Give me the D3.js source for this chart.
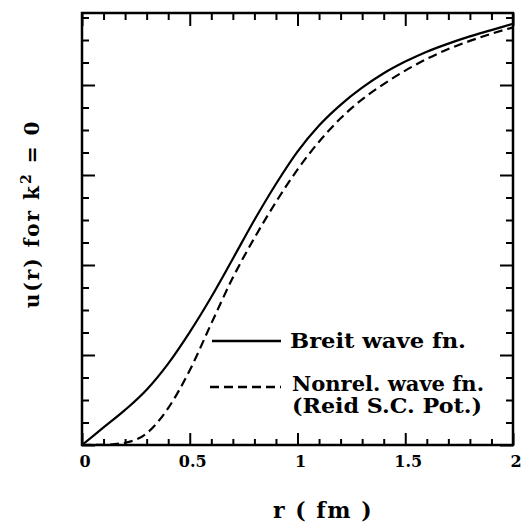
<!DOCTYPE html>
<html>
<head>
<meta charset="utf-8">
<script src="https://cdn.jsdelivr.net/npm/d3@7"></script>
<style>
  html, body { margin: 0; padding: 0; background: #fff; }
  svg { display: block; }
  text { font-family: "DejaVu Serif", serif; font-weight: bold; fill: #000; }
</style>
</head>
<body>
<svg id="chart" width="522" height="527"></svg>
<script>
// ---- data ----
const rGrid = [0, 0.1, 0.2, 0.3, 0.4, 0.5, 0.6, 0.7, 0.8, 0.9, 1.0, 1.1, 1.2, 1.3, 1.4, 1.5, 1.6, 1.7, 1.8, 1.9, 2.0];
const breitU = [0, 0.195, 0.39, 0.615, 0.905, 1.255, 1.645, 2.07, 2.50, 2.90, 3.26, 3.55, 3.78, 3.97, 4.13, 4.26, 4.37, 4.46, 4.54, 4.61, 4.68];
const nonrelU = [0, 0.003, 0.025, 0.13, 0.41, 0.83, 1.35, 1.86, 2.30, 2.70, 3.06, 3.37, 3.63, 3.84, 4.01, 4.16, 4.29, 4.40, 4.49, 4.57, 4.64];
const xTickLabels = ["0", "0.5", "1", "1.5", "2"];
const xTickValues = [0, 0.5, 1, 1.5, 2];
const legendLabels = ["Breit wave fn.", "Nonrel. wave fn.", "(Reid S.C. Pot.)"];

// ---- layout ----
const L = 82, R = 513, T = 13, B = 445;
const svg = d3.select("#chart");
const x = d3.scaleLinear().domain([0, 2]).range([L, R]);
const y = d3.scaleLinear().domain([0, 4.8]).range([B, T]);

const minorX = d3.range(0, 2.0001, 0.1);
const minorY = d3.range(0, 4.8001, 0.25);
const isMajorX = v => Math.abs(v * 2 - Math.round(v * 2)) < 1e-6;
const isMajorY = v => Math.abs(v - Math.round(v)) < 1e-6;

const g = svg.append("g");

// bottom axis ticks (inward)
g.append("g").attr("transform", `translate(0,${B})`)
  .call(d3.axisTop(x).tickValues(minorX).tickFormat("").tickSizeOuter(0))
  .call(a => a.select(".domain").remove())
  .call(a => a.selectAll(".tick line").attr("stroke", "#000").attr("stroke-width", 2)
    .attr("y2", d => isMajorX(d) ? -12 : -6));

// top axis ticks (inward)
g.append("g").attr("transform", `translate(0,${T})`)
  .call(d3.axisBottom(x).tickValues(minorX).tickFormat("").tickSizeOuter(0))
  .call(a => a.select(".domain").remove())
  .call(a => a.selectAll(".tick line").attr("stroke", "#000").attr("stroke-width", 2)
    .attr("y2", d => isMajorX(d) ? 13 : 7));

// left axis ticks (inward)
g.append("g").attr("transform", `translate(${L},0)`)
  .call(d3.axisRight(y).tickValues(minorY).tickFormat("").tickSizeOuter(0))
  .call(a => a.select(".domain").remove())
  .call(a => a.selectAll(".tick line").attr("stroke", "#000").attr("stroke-width", 2)
    .attr("x2", d => isMajorY(d) ? 13 : 7));

// right axis ticks (inward)
g.append("g").attr("transform", `translate(${R},0)`)
  .call(d3.axisLeft(y).tickValues(minorY).tickFormat("").tickSizeOuter(0))
  .call(a => a.select(".domain").remove())
  .call(a => a.selectAll(".tick line").attr("stroke", "#000").attr("stroke-width", 2)
    .attr("x2", d => isMajorY(d) ? -13 : -7));

// frame
g.append("rect").attr("x", L).attr("y", T).attr("width", R - L).attr("height", B - T)
  .attr("fill", "none").attr("stroke", "#000").attr("stroke-width", 2.5);

// x tick labels
g.append("g").selectAll("text").data(xTickValues).join("text")
  .attr("x", d => x(d) + 3).attr("y", B + 22)
  .attr("text-anchor", "middle").attr("font-size", 16)
  .text((d, i) => xTickLabels[i]);

// curves
const line = d3.line().x(d => x(d[0])).y(d => y(d[1])).curve(d3.curveMonotoneX);
g.append("path").datum(d3.zip(rGrid, breitU))
  .attr("d", line).attr("fill", "none").attr("stroke", "#000").attr("stroke-width", 2.2);
g.append("path").datum(d3.zip(rGrid, nonrelU))
  .attr("d", line).attr("fill", "none").attr("stroke", "#000").attr("stroke-width", 2.2)
  .attr("stroke-dasharray", "9,5");

// legend
const lg = g.append("g");
lg.append("line").attr("x1", 212).attr("x2", 281).attr("y1", 341).attr("y2", 341)
  .attr("stroke", "#000").attr("stroke-width", 2.5);
lg.append("line").attr("x1", 210).attr("x2", 281).attr("y1", 387).attr("y2", 387)
  .attr("stroke", "#000").attr("stroke-width", 2.5).attr("stroke-dasharray", "9,5");
lg.append("text").attr("x", 290).attr("y", 348).attr("font-size", 20)
  .attr("textLength", 176).attr("lengthAdjust", "spacingAndGlyphs").text(legendLabels[0]);
lg.append("text").attr("x", 292).attr("y", 391).attr("font-size", 20)
  .attr("textLength", 192).attr("lengthAdjust", "spacingAndGlyphs").text(legendLabels[1]);
lg.append("text").attr("x", 292).attr("y", 413).attr("font-size", 20)
  .attr("textLength", 190).attr("lengthAdjust", "spacingAndGlyphs").text(legendLabels[2]);

// axis titles
g.append("text").attr("x", 323).attr("y", 518).attr("text-anchor", "middle")
  .attr("font-size", 22).attr("letter-spacing", 1.5).text("r ( fm )");

const yt = g.append("text").attr("transform", "translate(39,214) rotate(-90)")
  .attr("text-anchor", "middle").attr("font-size", 20).attr("letter-spacing", 2);
yt.append("tspan").text("u(r) for k");
yt.append("tspan").attr("dy", -8).attr("font-size", 14).text("2");
yt.append("tspan").attr("dy", 8).text(" = 0");
</script>
</body>
</html>
